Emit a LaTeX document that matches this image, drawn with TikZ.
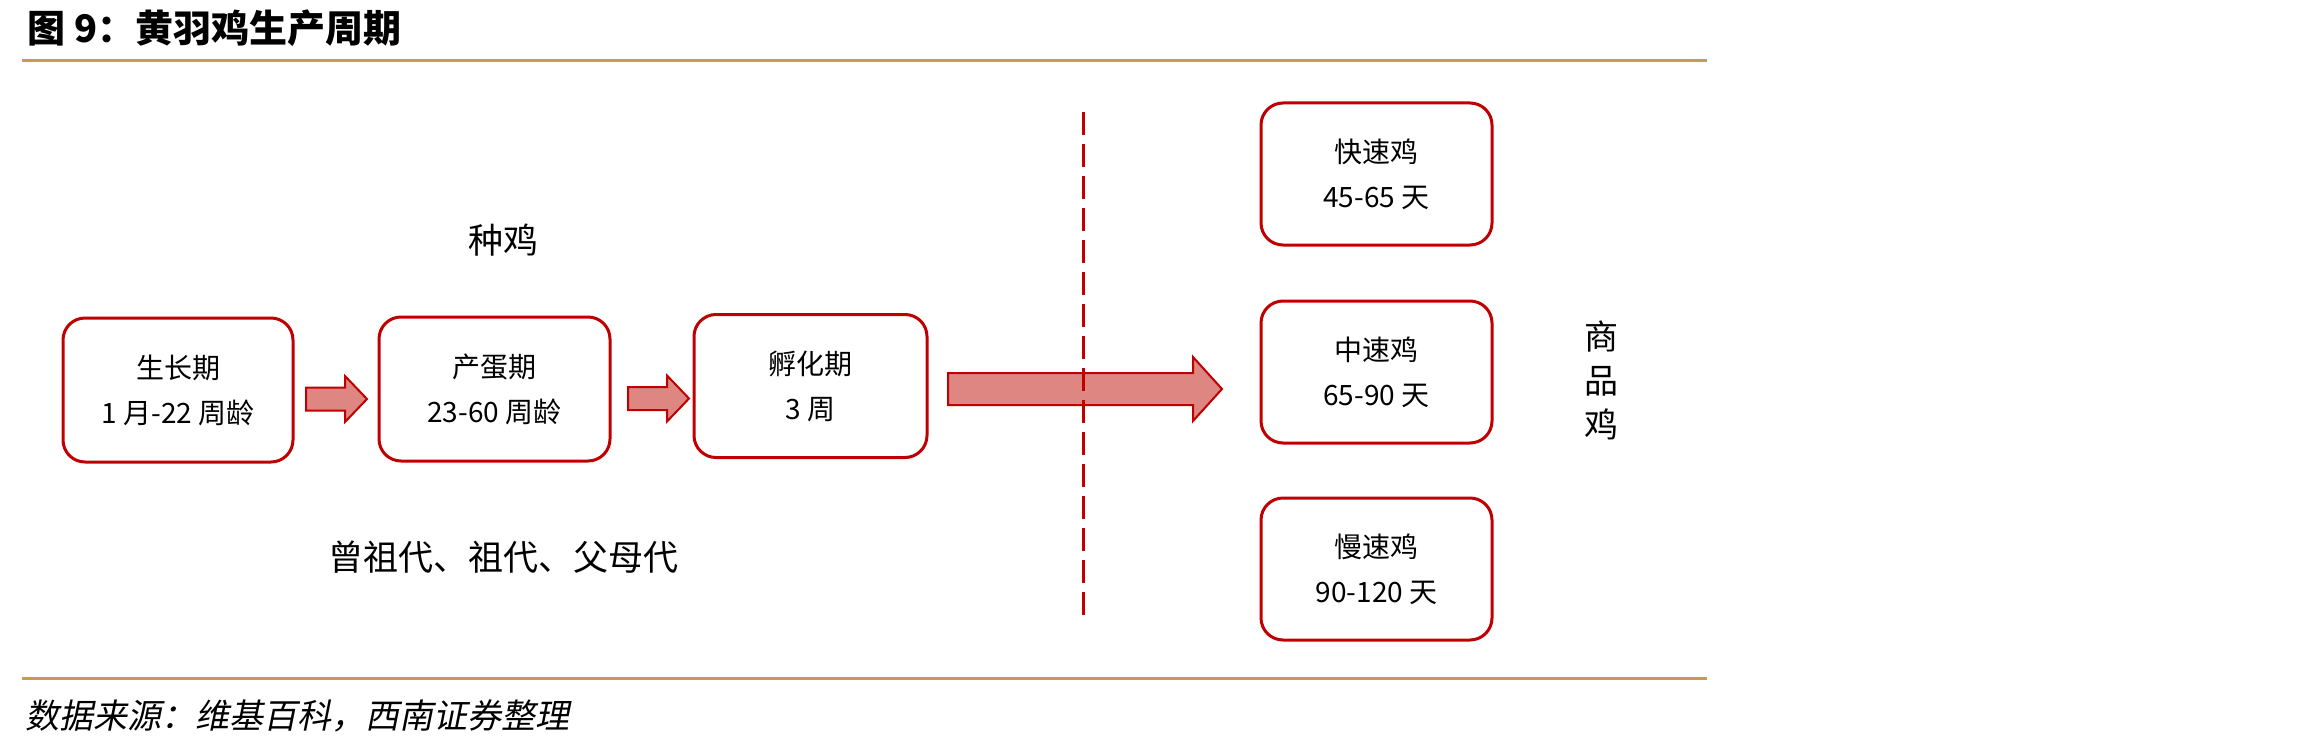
\documentclass[tikz,border=0pt]{standalone}
\usepackage{fontspec}
\setmainfont{Noto Sans CJK SC}
\newfontfamily\footfont{Noto Sans CJK SC}[FakeSlant=0.2]
\definecolor{boxred}{RGB}{192,0,0}
\definecolor{arrfill}{RGB}{222,134,130}
\definecolor{rulegold}{RGB}{204,153,85}
\newcommand{\blockarr}[6]{%
  \draw[blockarrow] (#1,#4-#5) -- (#2,#4-#5) -- (#2,#4-#6) -- (#3,#4) -- (#2,#4+#6) -- (#2,#4+#5) -- (#1,#4+#5) -- cycle;}
\tikzset{
  stagebox/.style={draw=boxred, line width=1.5pt, rounded corners=11pt, fill=white,
    align=center, inner sep=0pt, font=\fontsize{14pt}{22.5pt}\selectfont},
  blockarrow/.style={draw=boxred, line width=1pt, fill=arrfill, line join=miter},
  goldrule/.style={draw=rulegold, line width=1.5pt},
  divider/.style={draw=boxred, line width=1.5pt, dash pattern=on 11.5pt off 4.5pt},
  label/.style={inner sep=0pt, font=\fontsize{17.5pt}{21.5pt}\selectfont}
}
\begin{document}
\begin{tikzpicture}[x=0.5pt,y=-0.5pt]
\useasboundingbox[fill=white] (0,0) rectangle (2302,749);
% title and rules
\node[anchor=west, inner sep=0pt, font=\fontsize{19pt}{21pt}\selectfont\bfseries] (title) at (27,28) {图 9：黄羽鸡生产周期};
\coordinate (rtl) at (22,61); \coordinate (rtr) at (1707,61);
\coordinate (rbl) at (22,678); \coordinate (rbr) at (1707,678);
\draw[goldrule] (rtl) -- (rtr);
\draw[goldrule] (rbl) -- (rbr);
\node[anchor=west, inner sep=0pt, font=\fontsize{17pt}{20pt}\footfont] (source) at (25,716) {数据来源：维基百科，西南证券整理};
% stage boxes
\node[stagebox, minimum width=115pt, minimum height=72pt] (b1) at (178,390) {生长期\\1 月-22 周龄};
\node[stagebox, minimum width=115.5pt, minimum height=72pt] (b2) at (494.5,389) {产蛋期\\23-60 周龄};
\node[stagebox, minimum width=116.5pt, minimum height=71.5pt] (b3) at (810.5,386) {孵化期\\3 周};
% commercial boxes
\node[stagebox, minimum width=115.5pt, minimum height=71pt] (r1) at (1376.5,174) {快速鸡\\45-65 天};
\node[stagebox, minimum width=115.5pt, minimum height=71pt] (r2) at (1376.5,372) {中速鸡\\65-90 天};
\node[stagebox, minimum width=115.5pt, minimum height=71pt] (r3) at (1376.5,569) {慢速鸡\\90-120 天};
% labels
\node[label] (zhongji) at (503,240) {种鸡};
\node[label] (daici) at (503.5,557) {曾祖代、祖代、父母代};
\node[label, align=center, font=\fontsize{17pt}{22pt}\selectfont] (shangpin) at (1601,380) {商\\品\\鸡};
% arrows
\blockarr{306}{345}{367}{399}{11.5}{23}
\blockarr{628}{667}{689}{398.5}{11.5}{23}
\blockarr{948}{1193}{1222}{389}{16}{32}
% divider
\coordinate (dtop) at (1083,112); \coordinate (dbot) at (1083,622);
\draw[divider] (dtop) -- (dbot);
\end{tikzpicture}
\end{document}
